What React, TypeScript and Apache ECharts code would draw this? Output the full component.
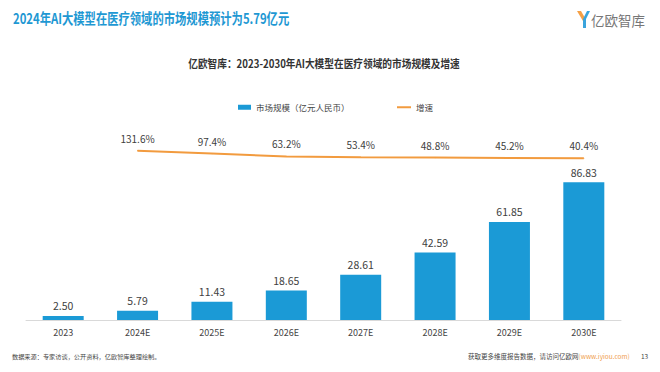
import React, { useEffect, useRef } from "react";
import * as echarts from "echarts";

const categories = ["2023", "2024E", "2025E", "2026E", "2027E", "2028E", "2029E", "2030E"];
const marketSize = [2.5, 5.79, 11.43, 18.65, 28.61, 42.59, 61.85, 86.83];
const growthRate: (number | null)[] = [null, 131.6, 97.4, 63.2, 53.4, 48.8, 45.2, 40.4];

const titleText = "2024年AI大模型在医疗领域的市场规模预计为5.79亿元";
const subtitleText = "亿欧智库：2023-2030年AI大模型在医疗领域的市场规模及增速";
const sourceText = "数据来源：专家访谈，公开资料，亿欧智库整理绘制。";
const footerText = "获取更多维度报告数据，请访问亿欧网";
const footerUrl = "(www.iyiou.com)";
const pageNo = "13";
const seriesNames = ["市场规模（亿元人民币）", "增速"];

const BLUE = "#1B9AD6";
const ORANGE = "#F29B3F";
const FONT = "'Noto Sans CJK SC', 'Noto Sans', sans-serif";

export default function App() {
  const ref = useRef<HTMLDivElement>(null);
  useEffect(() => {
    if (!ref.current) return;
    const chart = echarts.init(ref.current, undefined, { renderer: "svg" });
    chart.setOption({
      animation: false,
      backgroundColor: "#ffffff",
      textStyle: { fontFamily: FONT },
      grid: { left: 26, right: 39, top: 150, bottom: 52, outerBoundsMode: "none" },
      legend: [
        {
          data: [seriesNames[0]],
          left: 233,
          top: 98,
          icon: "rect",
          itemWidth: 13,
          itemHeight: 5,
          itemGap: 4,
          textStyle: { fontSize: 8.5, color: "#444", fontFamily: FONT },
        },
        {
          data: [seriesNames[1]],
          left: 392,
          top: 98,
          icon: "rect",
          itemWidth: 14,
          itemHeight: 2,
          textStyle: { fontSize: 8.5, color: "#444", fontFamily: FONT },
        },
      ],
      xAxis: {
        type: "category",
        data: categories,
        axisLine: { lineStyle: { color: "#D9D9D9", width: 1 } },
        axisTick: { show: false },
        axisLabel: { color: "#444", fontSize: 9, margin: 8, fontFamily: FONT },
      },
      yAxis: [
        { type: "value", min: 0, max: 107.2, show: false, splitLine: { show: false } },
        { type: "value", min: -1901, max: 140, show: false, splitLine: { show: false } },
      ],
      series: [
        {
          name: seriesNames[0],
          type: "bar",
          data: marketSize,
          barWidth: 41,
          itemStyle: { color: BLUE },
          label: {
            show: true,
            position: "top",
            distance: 5,
            color: "#404040",
            fontSize: 10.5,
            fontFamily: FONT,
            formatter: (p: any) => Number(p.value).toFixed(2),
          },
        },
        {
          name: seriesNames[1],
          type: "line",
          yAxisIndex: 1,
          data: growthRate,
          symbol: "circle",
          symbolSize: 1,
          lineStyle: { color: ORANGE, width: 2 },
          itemStyle: { color: ORANGE },
          label: {
            show: true,
            position: "top",
            distance: 7,
            color: "#404040",
            fontSize: 10,
            fontFamily: FONT,
            formatter: (p: any) => Number(p.value).toFixed(1) + "%",
          },
        },
      ],
      graphic: [
        {
          type: "text",
          left: 13,
          top: 11,
          scaleX: 0.78,
          style: {
            text: titleText,
            fontSize: 14.5,
            fontWeight: "bold",
            fill: "#1E98D3",
            fontFamily: FONT,
          },
        },
        {
          type: "text",
          x: 324,
          y: 63,
          scaleX: 0.88,
          style: {
            text: subtitleText,
            fontSize: 11,
            fontWeight: "bold",
            fill: "#333",
            align: "center",
            verticalAlign: "middle",
            fontFamily: FONT,
          },
        },
        // logo icon
        {
          type: "polygon",
          shape: { points: [[577, 11], [581, 11], [585, 18], [583, 21]] },
          style: { fill: "#F5A046" },
        },
        {
          type: "polygon",
          shape: { points: [[587, 11], [590, 11], [586, 19], [586, 28], [583, 28], [583, 19]] },
          style: { fill: "#3BA4DC" },
        },
        {
          type: "text",
          left: 591,
          top: 13,
          style: {
            text: "亿欧智库",
            fontSize: 13.5,
            fill: "#777",
            fontFamily: FONT,
          },
        },
        {
          type: "text",
          left: 12,
          top: 353,
          style: {
            text: sourceText,
            fontSize: 6.2,
            fill: "#444",
            fontFamily: FONT,
          },
        },
        {
          type: "text",
          left: 468,
          top: 353,
          style: {
            text: "{a|" + footerText + "}{b|" + footerUrl + "}",
            rich: {
              a: { fontSize: 6.5, fill: "#444", fontFamily: FONT },
              b: { fontSize: 6.5, fill: "#F0A050", fontFamily: FONT },
            },
          },
        },
        {
          type: "text",
          left: 641,
          top: 353,
          style: {
            text: pageNo,
            fontSize: 6.5,
            fill: "#444",
            fontFamily: FONT,
          },
        },
      ],
    });
    return () => chart.dispose();
  }, []);
  return <div ref={ref} style={{ width: 660, height: 372, position: "absolute", left: 0, top: 0 }} />;
}
